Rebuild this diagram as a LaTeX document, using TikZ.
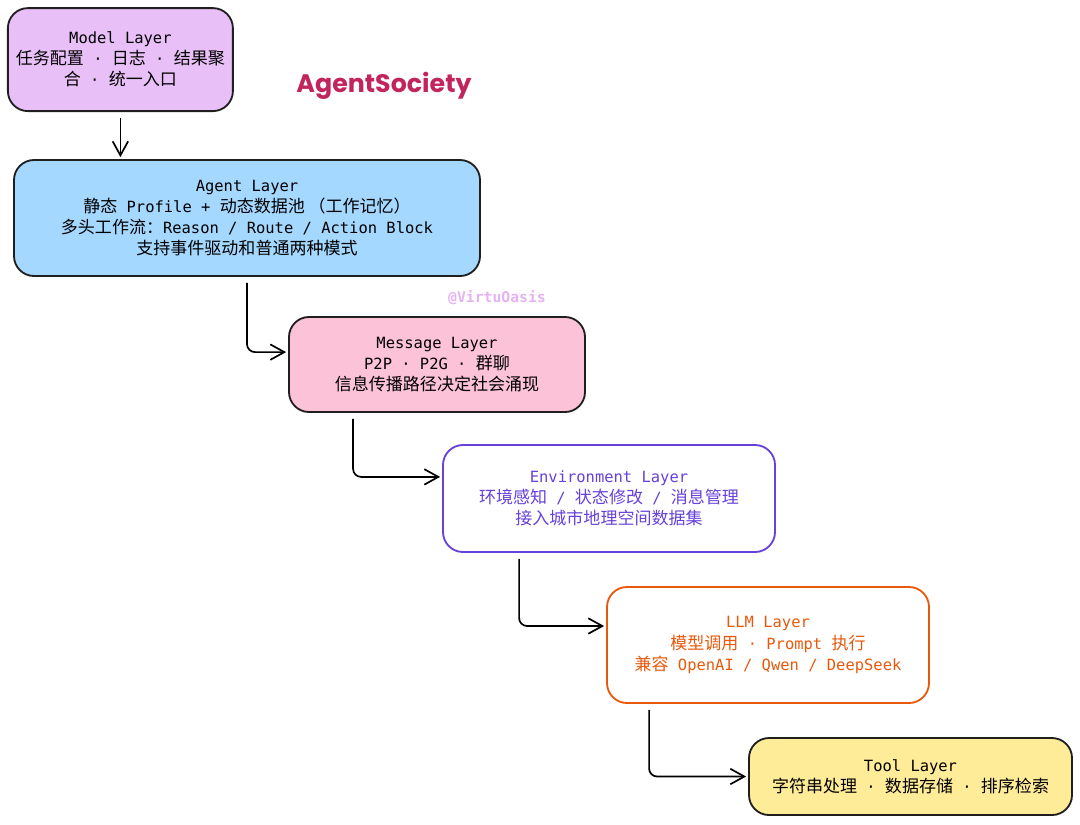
\documentclass[tikz,border=0pt]{standalone}
\usepackage{fontspec}
\setmonofont{DejaVu Sans Mono}
\newfontfamily\cjk[Scale=1.1]{Noto Sans CJK SC}
\newfontfamily\titlefont{Poppins}
\usetikzlibrary{arrows.meta, positioning, calc}
\definecolor{modelpurple}{HTML}{E9BFF7}
\definecolor{agentblue}{HTML}{A5D8FF}
\definecolor{msgpink}{HTML}{FCC2D7}
\definecolor{envviolet}{HTML}{6741D9}
\definecolor{llmorange}{HTML}{E8590C}
\definecolor{toolyellow}{HTML}{FFEC99}
\definecolor{titlered}{HTML}{C2255C}
\definecolor{markpink}{HTML}{E6B3F2}
\newcommand{\zh}[1]{{\cjk #1}}

\begin{document}
\begin{tikzpicture}[
  layerbox/.style={draw=black!88, line width=1.3pt, rounded corners=0.5cm, align=center, inner sep=0pt,
    font=\ttfamily\fontsize{11}{15}\selectfont},
  flow/.style={line width=1.2pt, rounded corners=0.2cm, shorten <=4.2pt, shorten >=1.4pt,
    -{Straight Barb[length=10pt, width=11pt, line width=1.2pt]}}
]
  \useasboundingbox (0,0) rectangle (27,-20.6);

  % layers, top to bottom
  \node[layerbox, fill=modelpurple, minimum width=5.625cm, minimum height=2.575cm] (model) at (3.01,-1.49)
    {Model Layer\\\zh{任务配置} · \zh{日志} · \zh{结果聚}\\\zh{合} · \zh{统一入口}};
  \node[layerbox, fill=agentblue, minimum width=11.65cm, minimum height=2.9cm] (agent) at (6.175,-5.45)
    {Agent Layer\\\zh{静态} Profile + \zh{动态数据池 （工作记忆）}\\\zh{多头工作流：}Reason / Route / Action Block\\\zh{支持事件驱动和普通两种模式}};
  \node[layerbox, fill=msgpink, minimum width=7.4cm, minimum height=2.375cm] (message) at (10.925,-9.1125)
    {Message Layer\\P2P · P2G · \zh{群聊}\\\zh{信息传播路径决定社会涌现}};
  \node[layerbox, draw=envviolet, text=envviolet, fill=white, minimum width=8.3cm, minimum height=2.675cm] (env) at (15.225,-12.4625)
    {Environment Layer\\\zh{环境感知} / \zh{状态修改} / \zh{消息管理}\\\zh{接入城市地理空间数据集}};
  \node[layerbox, draw=llmorange, text=llmorange, fill=white, minimum width=8.05cm, minimum height=2.9cm] (llm) at (19.2,-16.125)
    {LLM Layer\\\zh{模型调用} · Prompt \zh{执行}\\\zh{兼容} OpenAI / Qwen / DeepSeek};
  \node[layerbox, fill=toolyellow, minimum width=8.075cm, minimum height=1.925cm] (tool) at (22.7625,-19.4125)
    {Tool Layer\\\zh{字符串处理} · \zh{数据存储} · \zh{排序检索}};

  % title and mark
  \node[font=\titlefont\bfseries\fontsize{18}{21}\selectfont, text=titlered] (title) at (9.6,-2.15) {AgentSociety};
  \node[font=\ttfamily\bfseries\fontsize{10.5}{12}\selectfont, text=markpink] (mark) at (12.425,-7.45) {@VirtuOasis};

  % connectors
  \draw[flow] (model.south) -- (model.south |- agent.north);
  \draw[flow] (agent.south) |- ([yshift=0.31cm]message.west);
  \draw[flow] ([xshift=1.625cm]message.south west) |- ([yshift=0.54cm]env.west);
  \draw[flow] ([xshift=1.925cm]env.south west) |- ([yshift=0.475cm]llm.west);
  \draw[flow] ([xshift=1.075cm]llm.south west) |- (tool.west);
\end{tikzpicture}
\end{document}
